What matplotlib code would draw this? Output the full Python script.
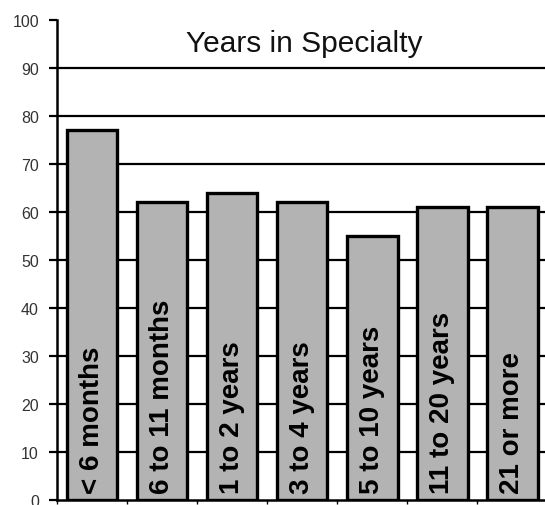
import numpy as np
import matplotlib
matplotlib.use("Agg")
import matplotlib.pyplot as plt

# datos
categorias = ["< 6 months", "6 to 11 months", "1 to 2 years", "3 to 4 years",
              "5 to 10 years", "11 to 20 years", "21 or more"]
valores = [77, 62, 64, 62, 55, 61, 61]
yticks = [0, 10, 20, 30, 40, 50, 60, 70, 80, 90, 100]
titulo = "Years in Specialty"

plt.rcParams['font.family'] = ['Liberation Sans', 'DejaVu Sans']

fig = plt.figure(figsize=(5.45, 5.06), dpi=100)
ax = fig.add_axes([0.1046, 0.0099, 0.9, 0.9486])

x = np.arange(len(categorias))

# lineas de cuadricula
for v in yticks[1:-1]:
    ax.axhline(v, color="black", lw=1.6, zorder=1)

barras = ax.bar(x, valores, width=0.72, color="#b3b3b3", edgecolor="black",
                linewidth=2.4, zorder=2)

for xi, nombre in zip(x, categorias):
    ax.text(xi, 1.5, nombre, rotation=90, ha="center", va="bottom",
            fontsize=20, fontweight="bold", color="black", zorder=3)

ax.text(3.03, 93.6, titulo, ha="center", va="baseline", fontsize=21.5, color="#111111")

ax.set_xlim(-0.5, 6.5)
ax.set_ylim(0, 100)
ax.set_yticks(yticks)
ax.set_yticklabels([str(v) for v in yticks], fontsize=11.5, color="#333333")
ax.set_xticks(np.arange(len(categorias) + 1) - 0.5)
ax.set_xticklabels([])
ax.tick_params(axis="y", direction="out", length=6, width=1.6, color="black", pad=7)
ax.tick_params(axis="x", direction="out", length=3, width=1, color="black")

for s in ["top", "right"]:
    ax.spines[s].set_visible(False)
ax.spines["left"].set_linewidth(1.8)
ax.spines["bottom"].set_linewidth(1.8)

fig.savefig("out.png", dpi=100)
